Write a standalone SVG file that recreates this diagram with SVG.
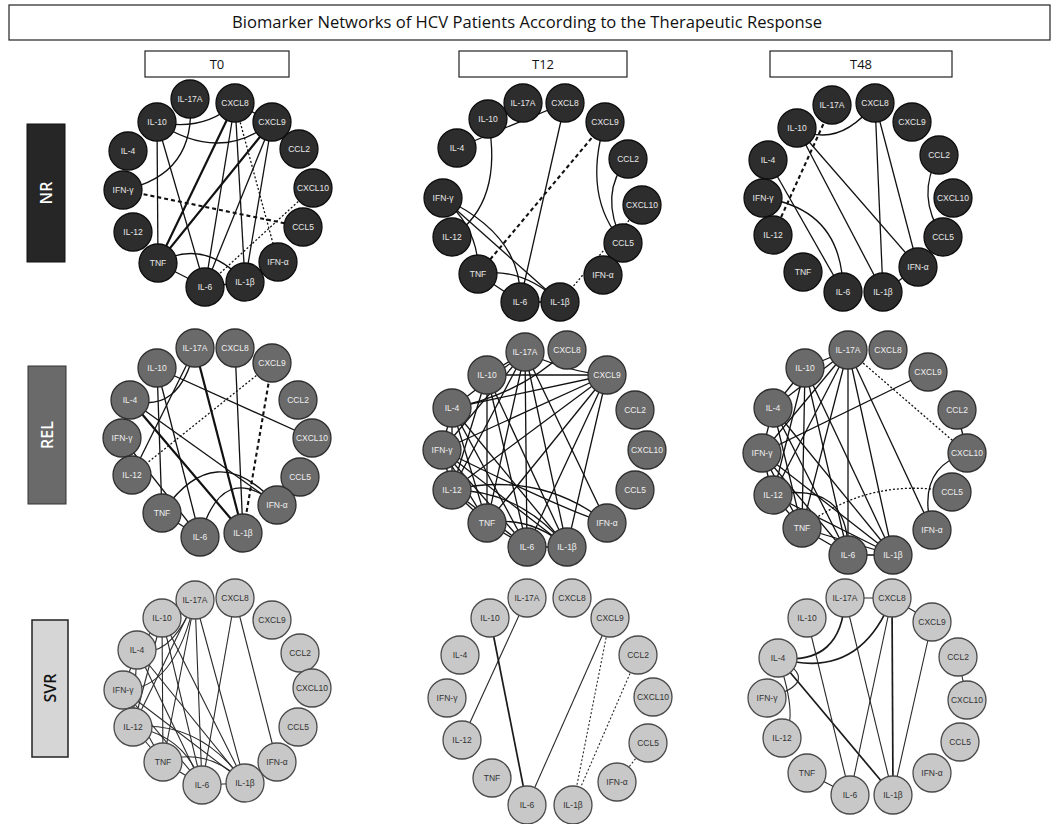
<svg xmlns="http://www.w3.org/2000/svg" width="1057" height="824" viewBox="0 0 1057 824">
<style>
.bg{fill:#fff}
.box{fill:#fff;stroke:#222;stroke-width:1.2}
.ttl{font-family:"Open Sans","Liberation Sans",sans-serif;font-size:15.5px;fill:#111;text-anchor:middle}
.hdr{font-family:"Open Sans","Liberation Sans",sans-serif;font-size:13px;fill:#111;text-anchor:middle}
.rl{font-family:"Open Sans","Liberation Sans",sans-serif;font-size:16px;font-weight:600;text-anchor:middle;dominant-baseline:central}
.nd text{font-family:"Liberation Sans",Arial,sans-serif;font-size:8.5px;text-anchor:middle;dominant-baseline:central}
.nr circle{fill:#2d2d2d;stroke:#0d0d0d;stroke-width:1.3}
.nr text{fill:#e8e8e8}
.rel circle{fill:#6a6a6a;stroke:#2e2e2e;stroke-width:1.3}
.rel text{fill:#efefef}
.svr circle{fill:#c8c8c8;stroke:#4a4a4a;stroke-width:1.3}
.svr text{fill:#333}
.e{stroke:#111;stroke-width:1.3;fill:none}
.th{stroke-width:2.2}
.da{stroke-dasharray:4 3;stroke-width:2.1}
.dt{stroke-dasharray:2 2;stroke-width:1.3}
.sv{stroke:#2a2a2a;stroke-width:1.1}
.sv.th{stroke:#1a1a1a;stroke-width:1.7}
</style>
<rect class="bg" x="0" y="0" width="1057" height="824"/>
<g id="title"><rect class="box" x="9" y="5" width="1041" height="35"/><text class="ttl" x="527" y="28" textLength="590" lengthAdjust="spacingAndGlyphs">Biomarker Networks of HCV Patients According to the Therapeutic Response</text></g>
<g id="hdr-t0"><rect class="box" x="145" y="51" width="144" height="26"/><text class="hdr" x="217" y="69">T0</text></g>
<g id="hdr-t12"><rect class="box" x="459" y="51" width="168" height="26"/><text class="hdr" x="543" y="69">T12</text></g>
<g id="hdr-t48"><rect class="box" x="770" y="51" width="182" height="26"/><text class="hdr" x="861" y="69">T48</text></g>
<g id="row-nr"><rect x="27" y="124" width="38" height="138" fill="#262626" stroke="#111"/><text class="rl" fill="#fff" transform="translate(46,193) rotate(-90)">NR</text></g>
<g id="row-rel"><rect x="28" y="366" width="38" height="138" fill="#6a6a6a" stroke="#333"/><text class="rl" fill="#fff" transform="translate(47,435) rotate(-90)">REL</text></g>
<g id="row-svr"><rect x="32" y="620" width="36" height="137" fill="#d6d6d6" stroke="#222" stroke-width="1.5"/><text class="rl" fill="#111" transform="translate(50,688) rotate(-90)">SVR</text></g>

<g id="connectors">
<g id="edges-nr-t0">
<path class="e" d="M157,122 Q204,132 235,103"/>
<path class="e" d="M157,122 Q219,164 272,122"/>
<path class="e" d="M190,99 Q197,175 123,190"/>
<line class="e" x1="235" y1="103" x2="272" y2="122"/>
<line class="e" x1="157" y1="122" x2="158" y2="263"/>
<line class="e" x1="157" y1="122" x2="205" y2="287"/>
<line class="e th" x1="235" y1="103" x2="158" y2="263"/>
<line class="e" x1="235" y1="103" x2="205" y2="287"/>
<line class="e" x1="235" y1="103" x2="245" y2="282"/>
<line class="e th" x1="272" y1="122" x2="158" y2="263"/>
<line class="e" x1="272" y1="122" x2="205" y2="287"/>
<line class="e" x1="272" y1="122" x2="245" y2="282"/>
<line class="e" x1="158" y1="263" x2="205" y2="287"/>
<line class="e" x1="205" y1="287" x2="245" y2="282"/>
<path class="e" d="M158,263 Q204,237 245,282"/>
<line class="e da" x1="123" y1="190" x2="303" y2="227"/>
<line class="e dt" x1="235" y1="103" x2="278" y2="262"/>
<line class="e dt" x1="313" y1="188" x2="205" y2="287"/>
</g>
<g id="edges-nr-t12">
<line class="e" x1="457" y1="148" x2="565" y2="103"/>
<path class="e" d="M488,119 Q504,202 452,237"/>
<line class="e" x1="565" y1="103" x2="520" y2="302"/>
<line class="e da" x1="605" y1="122" x2="478" y2="274"/>
<path class="e" d="M605,122 Q582,197 623,243"/>
<path class="e" d="M628,159 Q598,193 623,243"/>
<line class="e dt" x1="642" y1="205" x2="560" y2="302"/>
<path class="e" d="M443,198 Q480,230 478,274"/>
<path class="e" d="M443,198 Q524,236 520,302"/>
<line class="e" x1="443" y1="198" x2="560" y2="302"/>
<path class="e" d="M478,274 Q521,266 560,302"/>
<line class="e" x1="478" y1="274" x2="520" y2="302"/>
<line class="e" x1="520" y1="302" x2="560" y2="302"/>
</g>
<g id="edges-nr-t48">
<path class="e" d="M797,128 Q838,150 875,103"/>
<line class="e da" x1="832" y1="105" x2="773" y2="235"/>
<line class="e" x1="797" y1="128" x2="883" y2="292"/>
<line class="e" x1="797" y1="128" x2="918" y2="267"/>
<line class="e" x1="768" y1="160" x2="843" y2="292"/>
<path class="e" d="M763,198 Q843,209 843,292"/>
<line class="e" x1="875" y1="103" x2="883" y2="292"/>
<line class="e" x1="875" y1="103" x2="918" y2="267"/>
<path class="e" d="M939,155 Q915,196 943,237"/>
<line class="e" x1="883" y1="292" x2="918" y2="267"/>
</g>
<g id="edges-rel-t0">
<line class="e" x1="157" y1="368" x2="312" y2="438"/>
<path class="e" d="M195,348 Q180,415 130,400"/>
<line class="e" x1="195" y1="348" x2="132" y2="475"/>
<line class="e th" x1="195" y1="348" x2="243" y2="533"/>
<line class="e" x1="235" y1="348" x2="243" y2="533"/>
<line class="e dt" x1="272" y1="363" x2="132" y2="475"/>
<line class="e da" x1="272" y1="363" x2="243" y2="533"/>
<line class="e" x1="157" y1="368" x2="162" y2="513"/>
<line class="e" x1="157" y1="368" x2="200" y2="537"/>
<line class="e th" x1="130" y1="400" x2="243" y2="533"/>
<line class="e" x1="130" y1="400" x2="277" y2="505"/>
<line class="e" x1="122" y1="438" x2="200" y2="537"/>
<path class="e" d="M162,513 Q215,435 277,505"/>
<path class="e" d="M200,537 Q222,459 277,505"/>
<line class="e" x1="162" y1="513" x2="200" y2="537"/>
</g>
<g id="edges-rel-t12">
<line class="e" x1="525" y1="352" x2="487" y2="375"/>
<line class="e" x1="525" y1="352" x2="452" y2="408"/>
<line class="e" x1="525" y1="352" x2="442" y2="450"/>
<line class="e" x1="525" y1="352" x2="452" y2="490"/>
<line class="e" x1="525" y1="352" x2="487" y2="523"/>
<line class="e" x1="525" y1="352" x2="527" y2="547"/>
<line class="e" x1="525" y1="352" x2="567" y2="547"/>
<line class="e" x1="525" y1="352" x2="607" y2="523"/>
<path class="e" d="M525,352 Q567,372 607,375"/>
<line class="e" x1="607" y1="375" x2="487" y2="375"/>
<line class="e" x1="607" y1="375" x2="452" y2="408"/>
<line class="e" x1="607" y1="375" x2="442" y2="450"/>
<line class="e" x1="607" y1="375" x2="452" y2="490"/>
<line class="e" x1="607" y1="375" x2="487" y2="523"/>
<line class="e" x1="607" y1="375" x2="527" y2="547"/>
<line class="e" x1="607" y1="375" x2="567" y2="547"/>
<line class="e" x1="487" y1="375" x2="487" y2="523"/>
<line class="e" x1="487" y1="375" x2="527" y2="547"/>
<line class="e" x1="487" y1="375" x2="567" y2="547"/>
<line class="e" x1="487" y1="375" x2="452" y2="490"/>
<line class="e" x1="452" y1="408" x2="487" y2="523"/>
<line class="e" x1="452" y1="408" x2="527" y2="547"/>
<line class="e" x1="452" y1="408" x2="567" y2="547"/>
<line class="e" x1="452" y1="408" x2="442" y2="450"/>
<line class="e" x1="452" y1="408" x2="452" y2="490"/>
<line class="e" x1="442" y1="450" x2="487" y2="523"/>
<line class="e" x1="442" y1="450" x2="527" y2="547"/>
<line class="e" x1="442" y1="450" x2="567" y2="547"/>
<line class="e" x1="442" y1="450" x2="452" y2="490"/>
<path class="e" d="M442,450 Q570,513 607,523"/>
<path class="e" d="M452,490 Q540,470 607,523"/>
<path class="e" d="M452,490 Q520,490 567,547"/>
<line class="e" x1="452" y1="490" x2="527" y2="547"/>
<line class="e" x1="452" y1="490" x2="487" y2="523"/>
<line class="e" x1="487" y1="523" x2="527" y2="547"/>
<line class="e" x1="527" y1="547" x2="567" y2="547"/>
<path class="e" d="M487,523 Q530,515 567,547"/>
<path class="e" d="M567,350 Q520,395 452,408"/>
</g>
<g id="edges-rel-t48">
<line class="e" x1="848" y1="350" x2="805" y2="368"/>
<line class="e" x1="805" y1="368" x2="773" y2="408"/>
<line class="e" x1="773" y1="408" x2="762" y2="453"/>
<line class="e" x1="762" y1="453" x2="773" y2="495"/>
<line class="e" x1="773" y1="495" x2="802" y2="528"/>
<line class="e dt" x1="848" y1="350" x2="967" y2="453"/>
<line class="e" x1="928" y1="372" x2="762" y2="453"/>
<line class="e" x1="848" y1="350" x2="932" y2="530"/>
<line class="e" x1="848" y1="350" x2="893" y2="555"/>
<line class="e" x1="848" y1="350" x2="848" y2="555"/>
<line class="e" x1="848" y1="350" x2="802" y2="528"/>
<line class="e" x1="848" y1="350" x2="773" y2="495"/>
<line class="e" x1="848" y1="350" x2="762" y2="453"/>
<line class="e" x1="848" y1="350" x2="773" y2="408"/>
<line class="e" x1="805" y1="368" x2="802" y2="528"/>
<line class="e" x1="805" y1="368" x2="848" y2="555"/>
<line class="e" x1="805" y1="368" x2="773" y2="495"/>
<line class="e" x1="805" y1="368" x2="893" y2="555"/>
<line class="e" x1="773" y1="408" x2="848" y2="555"/>
<line class="e" x1="773" y1="408" x2="893" y2="555"/>
<line class="e" x1="773" y1="408" x2="802" y2="528"/>
<line class="e" x1="762" y1="453" x2="848" y2="555"/>
<line class="e" x1="762" y1="453" x2="893" y2="555"/>
<line class="e" x1="762" y1="453" x2="802" y2="528"/>
<path class="e" d="M773,495 Q850,480 848,555"/>
<line class="e" x1="773" y1="495" x2="893" y2="555"/>
<line class="e" x1="802" y1="528" x2="848" y2="555"/>
<line class="e" x1="802" y1="528" x2="893" y2="555"/>
<line class="e" x1="848" y1="555" x2="893" y2="555"/>
<path class="e dt" d="M802,528 Q869,476 952,492"/>
<path class="e" d="M967,453 Q915,468 932,530"/>
<line class="e" x1="957" y1="410" x2="967" y2="453"/>
</g>
<g id="edges-svr-t0">
<path class="e sv" d="M195,600 Q170,660 137,650"/>
<path class="e sv" d="M195,600 Q175,690 123,690"/>
<line class="e sv" x1="195" y1="600" x2="133" y2="727"/>
<line class="e sv" x1="195" y1="600" x2="163" y2="762"/>
<line class="e sv" x1="195" y1="600" x2="202" y2="785"/>
<line class="e sv" x1="195" y1="600" x2="245" y2="783"/>
<line class="e sv" x1="195" y1="600" x2="162" y2="618"/>
<line class="e sv" x1="235" y1="598" x2="202" y2="785"/>
<line class="e sv" x1="235" y1="598" x2="277" y2="762"/>
<line class="e sv" x1="162" y1="618" x2="163" y2="762"/>
<line class="e sv" x1="162" y1="618" x2="202" y2="785"/>
<line class="e sv" x1="162" y1="618" x2="245" y2="783"/>
<line class="e sv" x1="162" y1="618" x2="133" y2="727"/>
<line class="e sv" x1="162" y1="618" x2="137" y2="650"/>
<line class="e sv" x1="137" y1="650" x2="123" y2="690"/>
<line class="e sv" x1="123" y1="690" x2="133" y2="727"/>
<line class="e sv" x1="133" y1="727" x2="163" y2="762"/>
<line class="e sv" x1="137" y1="650" x2="133" y2="727"/>
<line class="e sv" x1="137" y1="650" x2="202" y2="785"/>
<line class="e sv" x1="137" y1="650" x2="245" y2="783"/>
<line class="e sv" x1="123" y1="690" x2="202" y2="785"/>
<line class="e sv" x1="123" y1="690" x2="245" y2="783"/>
<line class="e sv" x1="123" y1="690" x2="163" y2="762"/>
<path class="e sv" d="M133,727 Q200,720 245,783"/>
<path class="e sv" d="M133,727 Q185,735 202,785"/>
<path class="e sv" d="M163,762 Q205,745 245,783"/>
<line class="e sv" x1="163" y1="762" x2="202" y2="785"/>
<line class="e sv" x1="202" y1="785" x2="245" y2="783"/>
</g>
<g id="edges-svr-t12">
<line class="e sv" x1="527" y1="598" x2="462" y2="740"/>
<line class="e sv th" x1="490" y1="618" x2="527" y2="805"/>
<line class="e sv" x1="610" y1="618" x2="527" y2="805"/>
<line class="e sv dt" x1="610" y1="618" x2="573" y2="805"/>
<line class="e sv dt" x1="638" y1="655" x2="573" y2="805"/>
<line class="e sv dt" x1="648" y1="743" x2="617" y2="782"/>
</g>
<g id="edges-svr-t48">
<line class="e sv" x1="845" y1="598" x2="892" y2="598"/>
<line class="e sv" x1="892" y1="598" x2="932" y2="622"/>
<line class="e sv" x1="958" y1="657" x2="967" y2="700"/>
<path class="e sv th" d="M845,598 Q842,666 778,658"/>
<path class="e sv th" d="M892,598 Q859,682 778,658"/>
<path class="e sv" d="M778,658 Q824,682 767,698"/>
<path class="e sv" d="M778,658 Q800,722 782,738"/>
<line class="e sv th" x1="778" y1="658" x2="893" y2="795"/>
<line class="e sv" x1="807" y1="618" x2="850" y2="795"/>
<line class="e sv" x1="845" y1="598" x2="893" y2="795"/>
<line class="e sv" x1="892" y1="598" x2="850" y2="795"/>
<line class="e sv th" x1="892" y1="598" x2="893" y2="795"/>
<line class="e sv" x1="932" y1="622" x2="893" y2="795"/>
<line class="e sv" x1="807" y1="773" x2="850" y2="795"/>
</g>
</g>

<g id="panel-nr-t0" class="nr">
<g id="nr-t0-il17a" class="nd"><circle cx="190" cy="99" r="19"/><text x="190" y="99">IL-17A</text></g>
<g id="nr-t0-cxcl8" class="nd"><circle cx="235" cy="103" r="19"/><text x="235" y="103">CXCL8</text></g>
<g id="nr-t0-il10" class="nd"><circle cx="157" cy="122" r="19"/><text x="157" y="122">IL-10</text></g>
<g id="nr-t0-cxcl9" class="nd"><circle cx="272" cy="122" r="19"/><text x="272" y="122">CXCL9</text></g>
<g id="nr-t0-il4" class="nd"><circle cx="128" cy="151" r="19"/><text x="128" y="151">IL-4</text></g>
<g id="nr-t0-ccl2" class="nd"><circle cx="299" cy="149" r="19"/><text x="299" y="149">CCL2</text></g>
<g id="nr-t0-ifng" class="nd"><circle cx="123" cy="190" r="19"/><text x="123" y="190">IFN-γ</text></g>
<g id="nr-t0-cxcl10" class="nd"><circle cx="313" cy="188" r="19"/><text x="313" y="188">CXCL10</text></g>
<g id="nr-t0-il12" class="nd"><circle cx="133" cy="232" r="19"/><text x="133" y="232">IL-12</text></g>
<g id="nr-t0-ccl5" class="nd"><circle cx="303" cy="227" r="19"/><text x="303" y="227">CCL5</text></g>
<g id="nr-t0-tnf" class="nd"><circle cx="158" cy="263" r="19"/><text x="158" y="263">TNF</text></g>
<g id="nr-t0-ifna" class="nd"><circle cx="278" cy="262" r="19"/><text x="278" y="262">IFN-α</text></g>
<g id="nr-t0-il6" class="nd"><circle cx="205" cy="287" r="19"/><text x="205" y="287">IL-6</text></g>
<g id="nr-t0-il1b" class="nd"><circle cx="245" cy="282" r="19"/><text x="245" y="282">IL-1β</text></g>
</g>
<g id="panel-nr-t12" class="nr">
<g id="nr-t12-il17a" class="nd"><circle cx="523" cy="103" r="19"/><text x="523" y="103">IL-17A</text></g>
<g id="nr-t12-cxcl8" class="nd"><circle cx="565" cy="103" r="19"/><text x="565" y="103">CXCL8</text></g>
<g id="nr-t12-il10" class="nd"><circle cx="488" cy="119" r="19"/><text x="488" y="119">IL-10</text></g>
<g id="nr-t12-cxcl9" class="nd"><circle cx="605" cy="122" r="19"/><text x="605" y="122">CXCL9</text></g>
<g id="nr-t12-il4" class="nd"><circle cx="457" cy="148" r="19"/><text x="457" y="148">IL-4</text></g>
<g id="nr-t12-ccl2" class="nd"><circle cx="628" cy="159" r="19"/><text x="628" y="159">CCL2</text></g>
<g id="nr-t12-ifng" class="nd"><circle cx="443" cy="198" r="19"/><text x="443" y="198">IFN-γ</text></g>
<g id="nr-t12-cxcl10" class="nd"><circle cx="642" cy="205" r="19"/><text x="642" y="205">CXCL10</text></g>
<g id="nr-t12-il12" class="nd"><circle cx="452" cy="237" r="19"/><text x="452" y="237">IL-12</text></g>
<g id="nr-t12-ccl5" class="nd"><circle cx="623" cy="243" r="19"/><text x="623" y="243">CCL5</text></g>
<g id="nr-t12-tnf" class="nd"><circle cx="478" cy="274" r="19"/><text x="478" y="274">TNF</text></g>
<g id="nr-t12-ifna" class="nd"><circle cx="603" cy="275" r="19"/><text x="603" y="275">IFN-α</text></g>
<g id="nr-t12-il6" class="nd"><circle cx="520" cy="302" r="19"/><text x="520" y="302">IL-6</text></g>
<g id="nr-t12-il1b" class="nd"><circle cx="560" cy="302" r="19"/><text x="560" y="302">IL-1β</text></g>
</g>
<g id="panel-nr-t48" class="nr">
<g id="nr-t48-il17a" class="nd"><circle cx="832" cy="105" r="19"/><text x="832" y="105">IL-17A</text></g>
<g id="nr-t48-cxcl8" class="nd"><circle cx="875" cy="103" r="19"/><text x="875" y="103">CXCL8</text></g>
<g id="nr-t48-il10" class="nd"><circle cx="797" cy="128" r="19"/><text x="797" y="128">IL-10</text></g>
<g id="nr-t48-cxcl9" class="nd"><circle cx="912" cy="122" r="19"/><text x="912" y="122">CXCL9</text></g>
<g id="nr-t48-il4" class="nd"><circle cx="768" cy="160" r="19"/><text x="768" y="160">IL-4</text></g>
<g id="nr-t48-ccl2" class="nd"><circle cx="939" cy="155" r="19"/><text x="939" y="155">CCL2</text></g>
<g id="nr-t48-ifng" class="nd"><circle cx="763" cy="198" r="19"/><text x="763" y="198">IFN-γ</text></g>
<g id="nr-t48-cxcl10" class="nd"><circle cx="953" cy="198" r="19"/><text x="953" y="198">CXCL10</text></g>
<g id="nr-t48-il12" class="nd"><circle cx="773" cy="235" r="19"/><text x="773" y="235">IL-12</text></g>
<g id="nr-t48-ccl5" class="nd"><circle cx="943" cy="237" r="19"/><text x="943" y="237">CCL5</text></g>
<g id="nr-t48-tnf" class="nd"><circle cx="803" cy="272" r="19"/><text x="803" y="272">TNF</text></g>
<g id="nr-t48-ifna" class="nd"><circle cx="918" cy="267" r="19"/><text x="918" y="267">IFN-α</text></g>
<g id="nr-t48-il6" class="nd"><circle cx="843" cy="292" r="19"/><text x="843" y="292">IL-6</text></g>
<g id="nr-t48-il1b" class="nd"><circle cx="883" cy="292" r="19"/><text x="883" y="292">IL-1β</text></g>
</g>
<g id="panel-rel-t0" class="rel">
<g id="rel-t0-il17a" class="nd"><circle cx="195" cy="348" r="19"/><text x="195" y="348">IL-17A</text></g>
<g id="rel-t0-cxcl8" class="nd"><circle cx="235" cy="348" r="19"/><text x="235" y="348">CXCL8</text></g>
<g id="rel-t0-il10" class="nd"><circle cx="157" cy="368" r="19"/><text x="157" y="368">IL-10</text></g>
<g id="rel-t0-cxcl9" class="nd"><circle cx="272" cy="363" r="19"/><text x="272" y="363">CXCL9</text></g>
<g id="rel-t0-il4" class="nd"><circle cx="130" cy="400" r="19"/><text x="130" y="400">IL-4</text></g>
<g id="rel-t0-ccl2" class="nd"><circle cx="298" cy="400" r="19"/><text x="298" y="400">CCL2</text></g>
<g id="rel-t0-ifng" class="nd"><circle cx="122" cy="438" r="19"/><text x="122" y="438">IFN-γ</text></g>
<g id="rel-t0-cxcl10" class="nd"><circle cx="312" cy="438" r="19"/><text x="312" y="438">CXCL10</text></g>
<g id="rel-t0-il12" class="nd"><circle cx="132" cy="475" r="19"/><text x="132" y="475">IL-12</text></g>
<g id="rel-t0-ccl5" class="nd"><circle cx="300" cy="477" r="19"/><text x="300" y="477">CCL5</text></g>
<g id="rel-t0-tnf" class="nd"><circle cx="162" cy="513" r="19"/><text x="162" y="513">TNF</text></g>
<g id="rel-t0-ifna" class="nd"><circle cx="277" cy="505" r="19"/><text x="277" y="505">IFN-α</text></g>
<g id="rel-t0-il6" class="nd"><circle cx="200" cy="537" r="19"/><text x="200" y="537">IL-6</text></g>
<g id="rel-t0-il1b" class="nd"><circle cx="243" cy="533" r="19"/><text x="243" y="533">IL-1β</text></g>
</g>
<g id="panel-rel-t12" class="rel">
<g id="rel-t12-il17a" class="nd"><circle cx="525" cy="352" r="19"/><text x="525" y="352">IL-17A</text></g>
<g id="rel-t12-cxcl8" class="nd"><circle cx="567" cy="350" r="19"/><text x="567" y="350">CXCL8</text></g>
<g id="rel-t12-il10" class="nd"><circle cx="487" cy="375" r="19"/><text x="487" y="375">IL-10</text></g>
<g id="rel-t12-cxcl9" class="nd"><circle cx="607" cy="375" r="19"/><text x="607" y="375">CXCL9</text></g>
<g id="rel-t12-il4" class="nd"><circle cx="452" cy="408" r="19"/><text x="452" y="408">IL-4</text></g>
<g id="rel-t12-ccl2" class="nd"><circle cx="635" cy="410" r="19"/><text x="635" y="410">CCL2</text></g>
<g id="rel-t12-ifng" class="nd"><circle cx="442" cy="450" r="19"/><text x="442" y="450">IFN-γ</text></g>
<g id="rel-t12-cxcl10" class="nd"><circle cx="647" cy="450" r="19"/><text x="647" y="450">CXCL10</text></g>
<g id="rel-t12-il12" class="nd"><circle cx="452" cy="490" r="19"/><text x="452" y="490">IL-12</text></g>
<g id="rel-t12-ccl5" class="nd"><circle cx="635" cy="490" r="19"/><text x="635" y="490">CCL5</text></g>
<g id="rel-t12-tnf" class="nd"><circle cx="487" cy="523" r="19"/><text x="487" y="523">TNF</text></g>
<g id="rel-t12-ifna" class="nd"><circle cx="607" cy="523" r="19"/><text x="607" y="523">IFN-α</text></g>
<g id="rel-t12-il6" class="nd"><circle cx="527" cy="547" r="19"/><text x="527" y="547">IL-6</text></g>
<g id="rel-t12-il1b" class="nd"><circle cx="567" cy="547" r="19"/><text x="567" y="547">IL-1β</text></g>
</g>
<g id="panel-rel-t48" class="rel">
<g id="rel-t48-il17a" class="nd"><circle cx="848" cy="350" r="19"/><text x="848" y="350">IL-17A</text></g>
<g id="rel-t48-cxcl8" class="nd"><circle cx="888" cy="350" r="19"/><text x="888" y="350">CXCL8</text></g>
<g id="rel-t48-il10" class="nd"><circle cx="805" cy="368" r="19"/><text x="805" y="368">IL-10</text></g>
<g id="rel-t48-cxcl9" class="nd"><circle cx="928" cy="372" r="19"/><text x="928" y="372">CXCL9</text></g>
<g id="rel-t48-il4" class="nd"><circle cx="773" cy="408" r="19"/><text x="773" y="408">IL-4</text></g>
<g id="rel-t48-ccl2" class="nd"><circle cx="957" cy="410" r="19"/><text x="957" y="410">CCL2</text></g>
<g id="rel-t48-ifng" class="nd"><circle cx="762" cy="453" r="19"/><text x="762" y="453">IFN-γ</text></g>
<g id="rel-t48-cxcl10" class="nd"><circle cx="967" cy="453" r="19"/><text x="967" y="453">CXCL10</text></g>
<g id="rel-t48-il12" class="nd"><circle cx="773" cy="495" r="19"/><text x="773" y="495">IL-12</text></g>
<g id="rel-t48-ccl5" class="nd"><circle cx="952" cy="492" r="19"/><text x="952" y="492">CCL5</text></g>
<g id="rel-t48-tnf" class="nd"><circle cx="802" cy="528" r="19"/><text x="802" y="528">TNF</text></g>
<g id="rel-t48-ifna" class="nd"><circle cx="932" cy="530" r="19"/><text x="932" y="530">IFN-α</text></g>
<g id="rel-t48-il6" class="nd"><circle cx="848" cy="555" r="19"/><text x="848" y="555">IL-6</text></g>
<g id="rel-t48-il1b" class="nd"><circle cx="893" cy="555" r="19"/><text x="893" y="555">IL-1β</text></g>
</g>
<g id="panel-svr-t0" class="svr">
<g id="svr-t0-il17a" class="nd"><circle cx="195" cy="600" r="19"/><text x="195" y="600">IL-17A</text></g>
<g id="svr-t0-cxcl8" class="nd"><circle cx="235" cy="598" r="19"/><text x="235" y="598">CXCL8</text></g>
<g id="svr-t0-il10" class="nd"><circle cx="162" cy="618" r="19"/><text x="162" y="618">IL-10</text></g>
<g id="svr-t0-cxcl9" class="nd"><circle cx="272" cy="620" r="19"/><text x="272" y="620">CXCL9</text></g>
<g id="svr-t0-il4" class="nd"><circle cx="137" cy="650" r="19"/><text x="137" y="650">IL-4</text></g>
<g id="svr-t0-ccl2" class="nd"><circle cx="300" cy="653" r="19"/><text x="300" y="653">CCL2</text></g>
<g id="svr-t0-ifng" class="nd"><circle cx="123" cy="690" r="19"/><text x="123" y="690">IFN-γ</text></g>
<g id="svr-t0-cxcl10" class="nd"><circle cx="312" cy="688" r="19"/><text x="312" y="688">CXCL10</text></g>
<g id="svr-t0-il12" class="nd"><circle cx="133" cy="727" r="19"/><text x="133" y="727">IL-12</text></g>
<g id="svr-t0-ccl5" class="nd"><circle cx="298" cy="727" r="19"/><text x="298" y="727">CCL5</text></g>
<g id="svr-t0-tnf" class="nd"><circle cx="163" cy="762" r="19"/><text x="163" y="762">TNF</text></g>
<g id="svr-t0-ifna" class="nd"><circle cx="277" cy="762" r="19"/><text x="277" y="762">IFN-α</text></g>
<g id="svr-t0-il6" class="nd"><circle cx="202" cy="785" r="19"/><text x="202" y="785">IL-6</text></g>
<g id="svr-t0-il1b" class="nd"><circle cx="245" cy="783" r="19"/><text x="245" y="783">IL-1β</text></g>
</g>
<g id="panel-svr-t12" class="svr">
<g id="svr-t12-il17a" class="nd"><circle cx="527" cy="598" r="19"/><text x="527" y="598">IL-17A</text></g>
<g id="svr-t12-cxcl8" class="nd"><circle cx="572" cy="598" r="19"/><text x="572" y="598">CXCL8</text></g>
<g id="svr-t12-il10" class="nd"><circle cx="490" cy="618" r="19"/><text x="490" y="618">IL-10</text></g>
<g id="svr-t12-cxcl9" class="nd"><circle cx="610" cy="618" r="19"/><text x="610" y="618">CXCL9</text></g>
<g id="svr-t12-il4" class="nd"><circle cx="460" cy="655" r="19"/><text x="460" y="655">IL-4</text></g>
<g id="svr-t12-ccl2" class="nd"><circle cx="638" cy="655" r="19"/><text x="638" y="655">CCL2</text></g>
<g id="svr-t12-ifng" class="nd"><circle cx="447" cy="698" r="19"/><text x="447" y="698">IFN-γ</text></g>
<g id="svr-t12-cxcl10" class="nd"><circle cx="653" cy="697" r="19"/><text x="653" y="697">CXCL10</text></g>
<g id="svr-t12-il12" class="nd"><circle cx="462" cy="740" r="19"/><text x="462" y="740">IL-12</text></g>
<g id="svr-t12-ccl5" class="nd"><circle cx="648" cy="743" r="19"/><text x="648" y="743">CCL5</text></g>
<g id="svr-t12-tnf" class="nd"><circle cx="492" cy="778" r="19"/><text x="492" y="778">TNF</text></g>
<g id="svr-t12-ifna" class="nd"><circle cx="617" cy="782" r="19"/><text x="617" y="782">IFN-α</text></g>
<g id="svr-t12-il6" class="nd"><circle cx="527" cy="805" r="19"/><text x="527" y="805">IL-6</text></g>
<g id="svr-t12-il1b" class="nd"><circle cx="573" cy="805" r="19"/><text x="573" y="805">IL-1β</text></g>
</g>
<g id="panel-svr-t48" class="svr">
<g id="svr-t48-il17a" class="nd"><circle cx="845" cy="598" r="19"/><text x="845" y="598">IL-17A</text></g>
<g id="svr-t48-cxcl8" class="nd"><circle cx="892" cy="598" r="19"/><text x="892" y="598">CXCL8</text></g>
<g id="svr-t48-il10" class="nd"><circle cx="807" cy="618" r="19"/><text x="807" y="618">IL-10</text></g>
<g id="svr-t48-cxcl9" class="nd"><circle cx="932" cy="622" r="19"/><text x="932" y="622">CXCL9</text></g>
<g id="svr-t48-il4" class="nd"><circle cx="778" cy="658" r="19"/><text x="778" y="658">IL-4</text></g>
<g id="svr-t48-ccl2" class="nd"><circle cx="958" cy="657" r="19"/><text x="958" y="657">CCL2</text></g>
<g id="svr-t48-ifng" class="nd"><circle cx="767" cy="698" r="19"/><text x="767" y="698">IFN-γ</text></g>
<g id="svr-t48-cxcl10" class="nd"><circle cx="967" cy="700" r="19"/><text x="967" y="700">CXCL10</text></g>
<g id="svr-t48-il12" class="nd"><circle cx="782" cy="738" r="19"/><text x="782" y="738">IL-12</text></g>
<g id="svr-t48-ccl5" class="nd"><circle cx="960" cy="742" r="19"/><text x="960" y="742">CCL5</text></g>
<g id="svr-t48-tnf" class="nd"><circle cx="807" cy="773" r="19"/><text x="807" y="773">TNF</text></g>
<g id="svr-t48-ifna" class="nd"><circle cx="932" cy="773" r="19"/><text x="932" y="773">IFN-α</text></g>
<g id="svr-t48-il6" class="nd"><circle cx="850" cy="795" r="19"/><text x="850" y="795">IL-6</text></g>
<g id="svr-t48-il1b" class="nd"><circle cx="893" cy="795" r="19"/><text x="893" y="795">IL-1β</text></g>
</g>
</svg>
